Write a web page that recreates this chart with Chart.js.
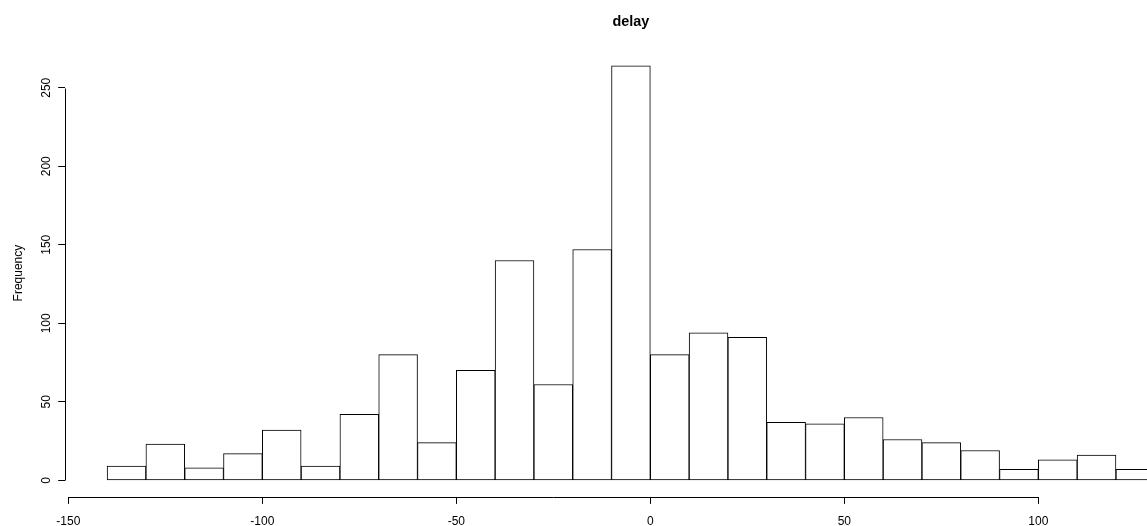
<!DOCTYPE html>
<html>
<head>
<meta charset="utf-8">
<script src="https://cdn.jsdelivr.net/npm/chart.js@4"></script>
<style>
  html, body { margin: 0; padding: 0; background: #fff; }
  #wrap { width: 1147px; height: 526px; position: relative; }
</style>
</head>
<body>
<div id="wrap"><canvas id="c" width="1147" height="526"></canvas></div>
<script>
// Histogram of "delay": bins of width 10
const binStart = [-140,-130,-120,-110,-100,-90,-80,-70,-60,-50,-40,-30,-20,-10,0,10,20,30,40,50,60,70,80,90,100,110,120];
const binWidth = 10;
const counts   = [9,23,8,17,32,9,42,80,24,70,140,61,147,264,80,94,91,37,36,40,26,24,19,7,13,16,7];
const xTicks = [-150,-100,-50,0,50,100];
const yTicks = [0,50,100,150,200,250];
const titleText = 'delay';
const yLabel = 'Frequency';

const FONT = "'Liberation Sans', Arial, Helvetica, sans-serif";

const axisPlugin = {
  id: 'rAxes',
  afterDraw(chart) {
    const ctx = chart.ctx;
    const xs = chart.scales.x, ys = chart.scales.y;
    const ca = chart.chartArea;
    ctx.save();
    ctx.strokeStyle = '#000';
    ctx.lineWidth = 1;
    // x axis line spanning first to last tick
    const yb = Math.round(ca.bottom) + 0.5;
    ctx.beginPath();
    ctx.moveTo(Math.round(xs.getPixelForValue(xTicks[0])) + 0.5, yb);
    ctx.lineTo(Math.round(xs.getPixelForValue(xTicks[xTicks.length-1])) + 0.5, yb);
    ctx.stroke();
    // y axis line spanning first to last tick
    const xl = Math.round(ca.left) + 0.5;
    ctx.beginPath();
    ctx.moveTo(xl, Math.round(ys.getPixelForValue(yTicks[0])) + 0.5);
    ctx.lineTo(xl, Math.round(ys.getPixelForValue(yTicks[yTicks.length-1])) + 0.5);
    ctx.stroke();
    // main title, centred over the plotting region
    ctx.fillStyle = '#000';
    ctx.font = 'bold 14.4px ' + FONT;
    ctx.textAlign = 'center';
    ctx.textBaseline = 'alphabetic';
    ctx.fillText(titleText, xs.getPixelForValue(-5), 26);
    ctx.restore();
  }
};

new Chart(document.getElementById('c'), {
  type: 'bar',
  data: {
    datasets: [{
      data: binStart.map((b, i) => ({ x: b + binWidth / 2, y: counts[i] })),
      backgroundColor: '#ffffff',
      borderColor: '#000000',
      borderWidth: 1,
      borderSkipped: false,
      barPercentage: 1,
      categoryPercentage: 1
    }]
  },
  options: {
    responsive: false,
    animation: false,
    layout: { padding: { top: 49.2, left: 0, right: 0, bottom: 0 } },
    plugins: { legend: { display: false }, tooltip: { enabled: false }, title: { display: false } },
    scales: {
      x: {
        type: 'linear',
        min: -150.8,
        max: 128,
        offset: false,
        afterBuildTicks: (s) => { s.ticks = xTicks.map(v => ({ value: v })); },
        afterFit: (s) => { s.height = 29.1; },
        border: { display: false },
        grid: { display: true, drawOnChartArea: false, drawTicks: true, tickLength: 7, color: '#000', lineWidth: 1, offset: false },
        ticks: { color: '#000', font: { family: FONT, size: 12 }, padding: 11, maxRotation: 0, minRotation: 0, autoSkip: false }
      },
      y: {
        type: 'linear',
        min: -10.56,
        max: 274.56,
        afterBuildTicks: (s) => { s.ticks = yTicks.map(v => ({ value: v })); },
        afterFit: (s) => { s.width = 65.2; },
        border: { display: false },
        grid: { display: true, drawOnChartArea: false, drawTicks: true, tickLength: 7, color: '#000', lineWidth: 1 },
        ticks: { color: '#000', font: { family: FONT, size: 12 }, padding: 2, minRotation: 90, maxRotation: 90, crossAlign: 'center', autoSkip: false },
        title: { display: true, text: yLabel, color: '#000', font: { family: FONT, size: 12 }, padding: { top: 11, bottom: 0 } }
      }
    }
  },
  plugins: [axisPlugin]
});
</script>
</body>
</html>
